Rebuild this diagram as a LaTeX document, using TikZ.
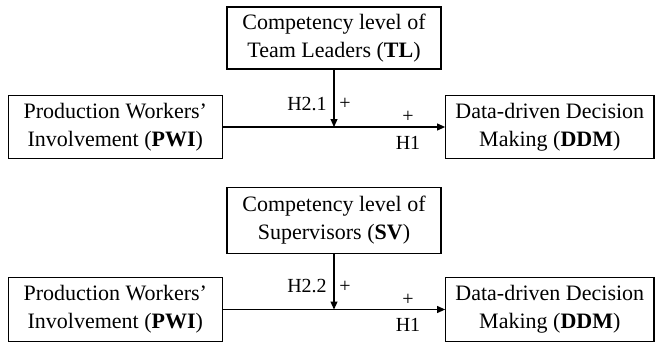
\documentclass[tikz,border=0pt]{standalone}
\usepackage{fontspec}
\setmainfont{Liberation Serif}
\usetikzlibrary{arrows.meta, positioning, calc}

\tikzset{
    varBox/.style={draw=black, line width=1.1pt, align=center, inner sep=0pt,
        minimum height=63.5pt, font=\fontsize{22}{28}\selectfont},
    hypLabel/.style={inner sep=0pt, font=\fontsize{20}{24}\selectfont},
    pathArrow/.style={line width=1.1pt, -{Triangle[length=8pt, width=7pt]}}
}

% one model: shift, name suffix, moderator text, hypothesis label, moderator height
\newcommand{\DrawModel}[5]{
    \begin{scope}[shift={(0,#1)}]
        \node[varBox, minimum width=214.5pt] (pwi#2) at (115.3, 0) {Production Workers'\\Involvement (\textbf{PWI})};
        \node[varBox, minimum width=208.3pt] (ddm#2) at (549.8, 0) {Data-driven Decision\\Making (\textbf{DDM})};
        \node[varBox, minimum width=214pt, minimum height=#5pt] (mod#2) at (334, -89) {#3};
        \coordinate (join#2) at (334, 0);
        \draw[pathArrow] (pwi#2) -- (ddm#2);
        \draw[pathArrow] (mod#2) -- (join#2);
        \node[hypLabel] (hmod#2) at (307, -23) {#4};
        \node[hypLabel] (pmod#2) at (345, -23) {+};
        \node[hypLabel] (pdir#2) at (408, -10) {+};
        \node[hypLabel] (hdir#2) at (408, 15.5) {H1};
    \end{scope}
}

\begin{document}
\begin{tikzpicture}[x=1pt, y=-1pt]
    \useasboundingbox (0,0) rectangle (655,342);
    % Team leaders
    \DrawModel{127}{A}{Competency level of\\Team Leaders (\textbf{TL})}{H2.1}{62}
    % Supervisors
    \DrawModel{309.5}{B}{Competency level of\\Supervisors (\textbf{SV})}{H2.2}{66}
\end{tikzpicture}
\end{document}
